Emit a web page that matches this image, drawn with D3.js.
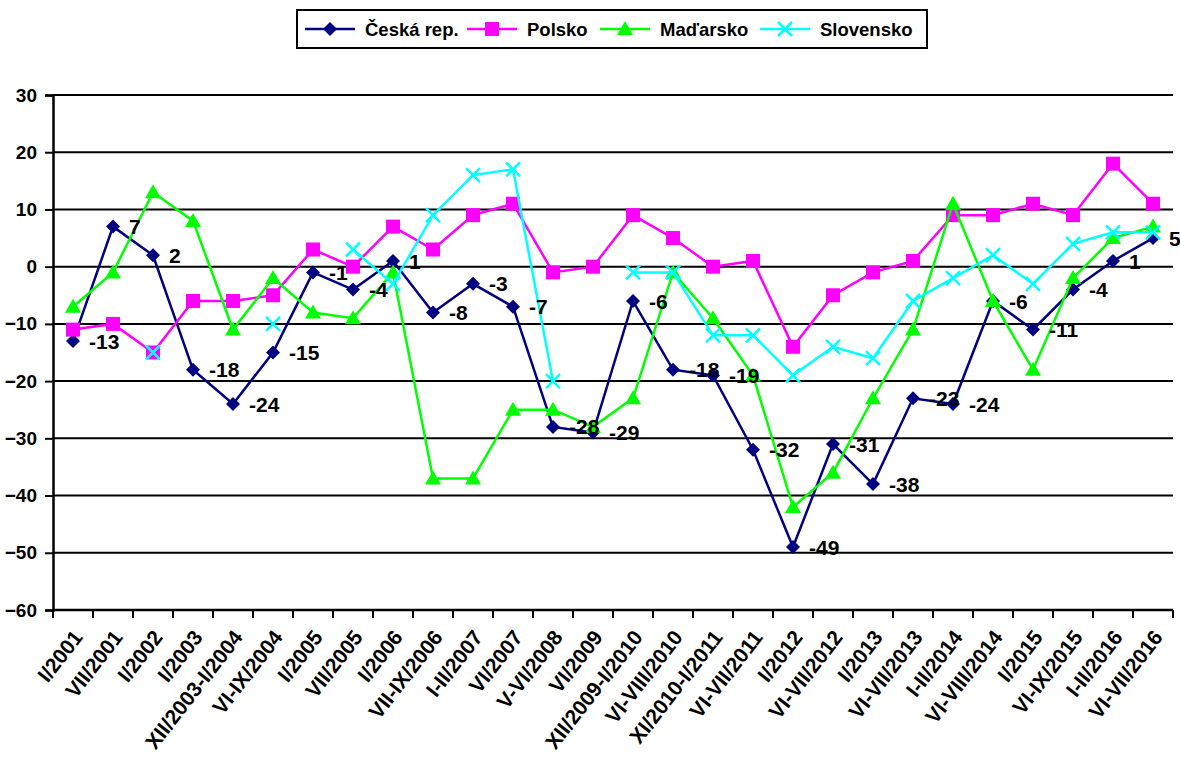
<!DOCTYPE html>
<html>
<head>
<meta charset="utf-8">
<script src="https://cdn.jsdelivr.net/npm/d3@7"></script>
<style>
	body { margin: 0; background: #fff; }
	svg text { font-family: "Liberation Sans", Arial, sans-serif; font-weight: bold; fill: #000; }
</style>
</head>
<body>
<svg id="chart" width="1180" height="762"></svg>
<script>

var categories = ["I/2001", "VII/2001", "I/2002", "I/2003", "XII/2003-I/2004", "VI-IX/2004", "I/2005", "VII/2005",
	"I/2006", "VII-IX/2006", "I-II/2007", "VI/2007", "V-VI/2008", "VI/2009", "XII/2009-I/2010", "VI-VIII/2010",
	"XI/2010-I/2011", "VI-VII/2011", "I/2012", "VI-VII/2012", "I/2013", "VI-VII/2013", "I-II/2014", "VI-VIII/2014",
	"I/2015", "VI-IX/2015", "I-II/2016", "VI-VII/2016"];

var ceskaRep = [-13, 7, 2, -18, -24, -15, -1, -4, 1, -8, -3, -7, -28, -29, -6, -18, -19, -32, -49, -31, -38, -23, -24, -6, -11, -4, 1, 5];
var polsko = [-11, -10, -15, -6, -6, -5, 3, 0, 7, 3, 9, 11, -1, 0, 9, 5, 0, 1, -14, -5, -1, 1, 9, 9, 11, 9, 18, 11];
var madarsko = [-7, -1, 13, 8, -11, -2, -8, -9, -1, -37, -37, -25, -25, -28, -23, -1, -9, -19, -42, -36, -23, -11, 11, -6, -18, -2, 5, 7];
var slovensko = [null, null, -15, null, null, -10, null, 3, -3, 9, 16, 17, -20, null, -1, -1, -12, -12, -19, -14, -16, -6, -2, 2, -3, 4, 6, 6];

var yTicks = [30, 20, 10, 0, -10, -20, -30, -40, -50, -60];

var series = [
	{ name: "Česká rep.", values: ceskaRep, color: "#000080", marker: "diamond" },
	{ name: "Polsko", values: polsko, color: "#ff00ff", marker: "square" },
	{ name: "Maďarsko", values: madarsko, color: "#00ff00", marker: "triangle" },
	{ name: "Slovensko", values: slovensko, color: "#00ffff", marker: "cross" }
];

var margin = { left: 53, top: 95, right: 1173, bottom: 610 };

var svg = d3.select("#chart");

var x = d3.scaleBand()
	.domain(categories)
	.range([margin.left, margin.right]);

var y = d3.scaleLinear()
	.domain([-60, 30])
	.range([margin.bottom, margin.top]);

// gridlines
svg.append("g")
	.selectAll("line")
	.data(yTicks)
	.join("line")
	.attr("x1", margin.left)
	.attr("x2", margin.right)
	.attr("y1", function (d) { return y(d); })
	.attr("y2", function (d) { return y(d); })
	.attr("stroke", "#000")
	.attr("stroke-width", 2);

// y axis
var yAxis = svg.append("g")
	.attr("transform", "translate(" + margin.left + ",0)")
	.call(d3.axisLeft(y).tickValues(yTicks).tickSize(8).tickPadding(8));
yAxis.select(".domain").attr("stroke-width", 2.5);
yAxis.selectAll(".tick line").attr("stroke-width", 2);
yAxis.selectAll(".tick text").style("font-size", "19px").attr("font-family", null);

// x axis
var tickPositions = categories.map(function (c) { return x(c); }).concat([margin.right]);
svg.append("line")
	.attr("x1", margin.left).attr("x2", margin.right)
	.attr("y1", margin.bottom).attr("y2", margin.bottom)
	.attr("stroke", "#000").attr("stroke-width", 2.5);
svg.append("g")
	.selectAll("line")
	.data(tickPositions)
	.join("line")
	.attr("x1", function (d) { return d; })
	.attr("x2", function (d) { return d; })
	.attr("y1", margin.bottom)
	.attr("y2", margin.bottom + 8)
	.attr("stroke", "#000")
	.attr("stroke-width", 2);

svg.append("g")
	.selectAll("text")
	.data(categories)
	.join("text")
	.attr("transform", function (d) {
		return "translate(" + (x(d) + x.bandwidth() / 2 + 5) + "," + (margin.bottom + 23) + ") rotate(-52)";
	})
	.attr("text-anchor", "end")
	.attr("dy", "0.35em")
	.style("font-size", "21px")
	.text(function (d) { return d; });

function cx(i) { return x(categories[i]) + x.bandwidth() / 2; }

function drawMarker(g, type, color) {
	if (type === "diamond") {
		g.append("path").attr("d", "M0,-7L7,0L0,7L-7,0Z").attr("fill", color);
	} else if (type === "square") {
		g.append("rect").attr("x", -7).attr("y", -7).attr("width", 14).attr("height", 14).attr("fill", color);
	} else if (type === "triangle") {
		g.append("path").attr("d", "M0,-8L8,6L-8,6Z").attr("fill", color);
	} else {
		g.append("path").attr("d", "M-7,-7L7,7M-7,7L7,-7")
			.attr("stroke", color).attr("stroke-width", 2.5).attr("fill", "none");
	}
}

var line = d3.line()
	.defined(function (d) { return d !== null; })
	.x(function (d, i) { return cx(i); })
	.y(function (d) { return y(d); });

series.forEach(function (s) {
	svg.append("path")
		.datum(s.values)
		.attr("d", line)
		.attr("fill", "none")
		.attr("stroke", s.color)
		.attr("stroke-width", 2.5);

	svg.append("g")
		.selectAll("g")
		.data(s.values.map(function (v, i) { return { v: v, i: i }; }).filter(function (d) { return d.v !== null; }))
		.join("g")
		.attr("transform", function (d) { return "translate(" + cx(d.i) + "," + y(d.v) + ")"; })
		.each(function () { drawMarker(d3.select(this), s.marker, s.color); });
});

// data labels for Česká rep.
svg.append("g")
	.selectAll("text")
	.data(ceskaRep)
	.join("text")
	.attr("x", function (d, i) { return cx(i) + 16; })
	.attr("y", function (d) { return y(d); })
	.attr("dy", "0.36em")
	.style("font-size", "21px")
	.text(function (d) { return d; });

// legend
var legend = svg.append("g");
legend.append("rect")
	.attr("x", 297).attr("y", 10).attr("width", 630).attr("height", 38)
	.attr("fill", "#fff").attr("stroke", "#000").attr("stroke-width", 2);

var legendX = [305, 467, 600, 760];
series.forEach(function (s, k) {
	var item = legend.append("g").attr("transform", "translate(" + legendX[k] + ",29)");
	item.append("line").attr("x1", 0).attr("x2", 50).attr("stroke", s.color).attr("stroke-width", 2.5);
	drawMarker(item.append("g").attr("transform", "translate(25,0)"), s.marker, s.color);
	item.append("text")
		.attr("x", 60)
		.attr("dy", "0.36em")
		.style("font-size", "18.5px")
		.text(s.name);
});

</script>
</body>
</html>
